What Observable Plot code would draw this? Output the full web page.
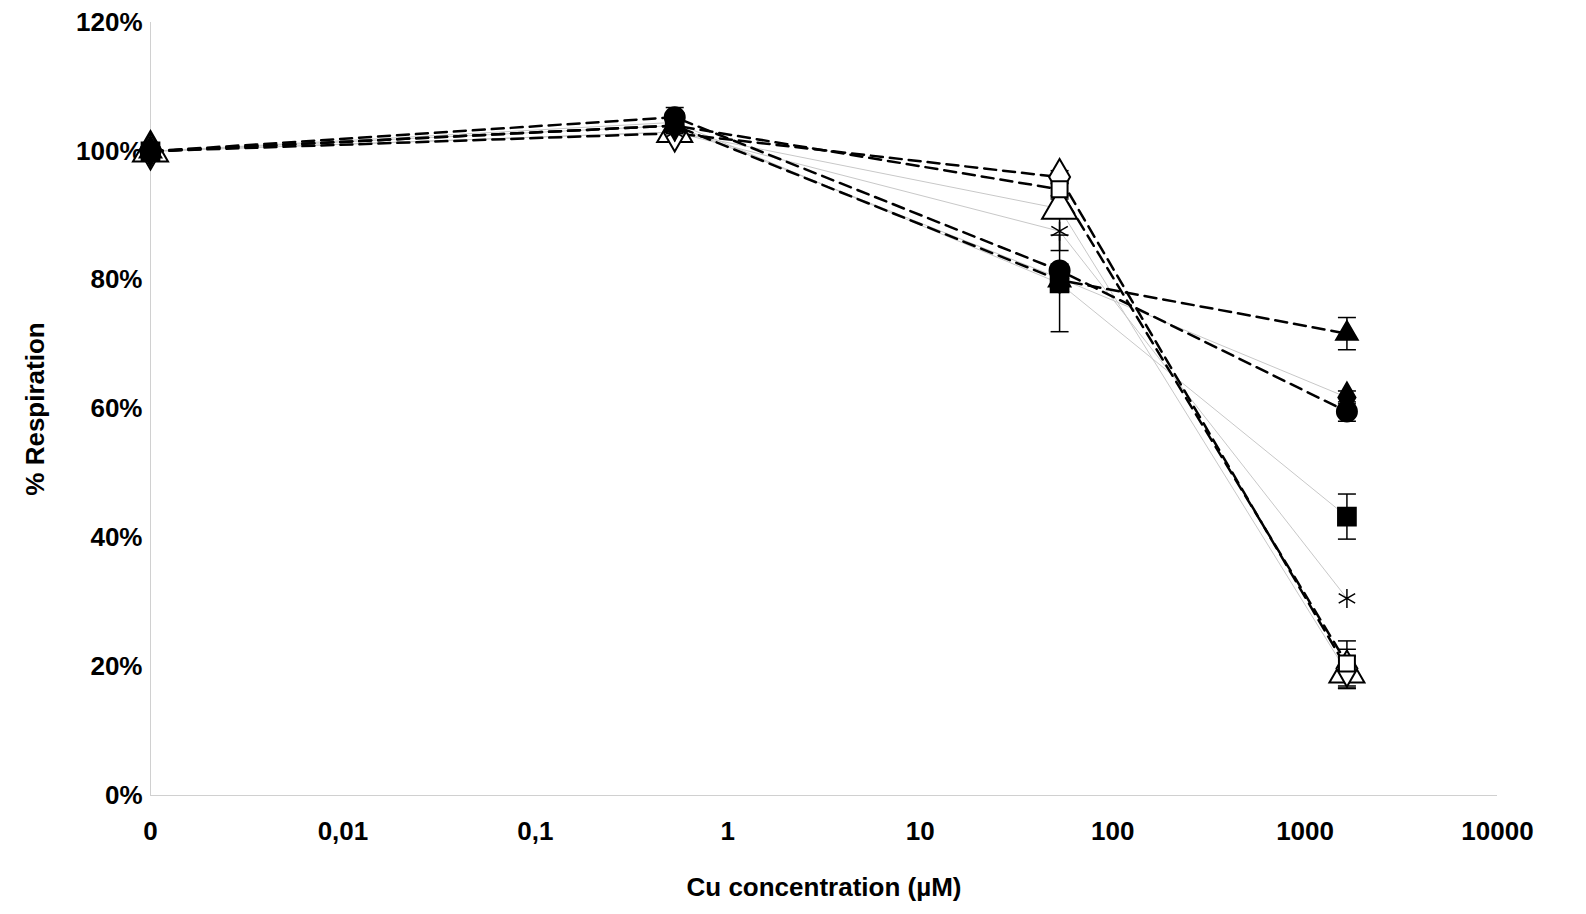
<!DOCTYPE html>
<html><head><meta charset="utf-8">
<script src="https://cdn.jsdelivr.net/npm/d3@7"></script>
<script src="https://cdn.jsdelivr.net/npm/@observablehq/plot@0.6"></script>
<style>html,body{margin:0;background:#fff;overflow:hidden} #chart{font-family:"Liberation Sans",Arial,sans-serif} #chart svg{max-width:none!important;width:1586px;height:914px}</style>
</head><body><div id="chart"></div>
<script>
// concentrations (µM); "0" is drawn at 0.001 on the log axis
const conc = [0.001, 0.53, 53, 1650];
const xTicks = [0.001, 0.01, 0.1, 1, 10, 100, 1000, 10000];
const xTickLabels = ["0", "0,01", "0,1", "1", "10", "100", "1000", "10000"];

// drawing order: open markers first, filled markers on top
const series = ["openTriangle", "openDiamond", "openSquare", "asterisk", "solidTriangle", "solidDiamond", "solidCircle", "solidSquare"];
const values = {
  solidTriangle: [100, 104, 80.0, 71.7],
  solidCircle:   [100, 105.3, 81.5, 59.6],
  solidDiamond:  [100, 104, 80.3, 61.8],
  solidSquare:   [100, 104.5, 79.5, 43.3],
  asterisk:      [100, 103, 87.6, 30.6],
  openDiamond:   [100, 102.8, 96, 19.7],
  openSquare:    [100, 104, 94.1, 20.5],
  openTriangle:  [100, 103, 91.1, 19.1]
};
const errors = {
  solidTriangle: [0, 1, 1, 2.5],
  solidCircle:   [0, 1.5, 1, 1.5],
  solidDiamond:  [0, 1, 1, 1],
  solidSquare:   [0, 1, 7.5, 3.5],
  asterisk:      [0, 1, 3, 0],
  openDiamond:   [0, 1, 1, 3],
  openSquare:    [0, 1, 1, 3.5],
  openTriangle:  [0, 1, 1.5, 2.5]
};
const dashed = ["solidTriangle", "solidCircle", "openDiamond", "openSquare"];
const symbolOf = {solidTriangle:"triangle", solidCircle:"circle", solidDiamond:"diamond", solidSquare:"square",
  asterisk:"asterisk", openDiamond:"diamond", openSquare:"square", openTriangle:"triangle"};
const filled = ["solidTriangle", "solidCircle", "solidDiamond", "solidSquare"];
const sizeOf = {solidTriangle:8, solidCircle:10, solidDiamond:9, solidSquare:10, asterisk:9, openDiamond:11, openSquare:9, openTriangle:13};

const rows = series.flatMap(s => conc.map((c, i) => ({s, x: c, y: values[s][i], e: errors[s][i]})));
const caps = rows.filter(d => d.e > 0).flatMap(d => [{x: d.x, y: d.y - d.e}, {x: d.x, y: d.y + d.e}]);
const capSymbol = {draw(ctx) { ctx.moveTo(-9, 0); ctx.lineTo(9, 0); }};

const marks = [
  Plot.ruleX([0.001], {stroke: "#d0d0d0"}),
  Plot.ruleY([0], {stroke: "#d0d0d0"}),
  Plot.line(rows.filter(d => !dashed.includes(d.s)), {x: "x", y: "y", z: "s", stroke: "#c8c8c8", strokeWidth: 1}),
  Plot.line(rows.filter(d => dashed.includes(d.s)), {x: "x", y: "y", z: "s", stroke: "#000", strokeWidth: 2.5, strokeDasharray: "12,7"}),
  Plot.link(rows.filter(d => d.e > 0), {x1: "x", x2: "x", y1: d => d.y - d.e, y2: d => d.y + d.e, stroke: "#000", strokeWidth: 1.5}),
  Plot.dot(caps, {x: "x", y: "y", symbol: () => capSymbol, stroke: "#000", strokeWidth: 1.5, r: 1})
];
for (const s of series) {
  const isFilled = filled.includes(s);
  marks.push(Plot.dot(rows.filter(d => d.s === s), {
    x: "x", y: "y", symbol: symbolOf[s], r: sizeOf[s],
    fill: isFilled ? "#000" : (s === "asterisk" ? "none" : "#fff"),
    stroke: "#000", strokeWidth: s === "asterisk" ? 1.5 : 2
  }));
}

const chart = Plot.plot({
  width: 1586, height: 914,
  marginLeft: 150, marginRight: 89, marginTop: 22, marginBottom: 119,
  style: {fontFamily: "Liberation Sans, Arial, sans-serif", fontSize: "26px", fontWeight: "bold", color: "#000"},
  x: {type: "log", domain: [0.001, 10000], ticks: xTicks, tickFormat: d => xTickLabels[xTicks.indexOf(d)] ?? "",
      tickSize: 0, tickPadding: 26, label: "Cu concentration (µM)", labelArrow: "none", labelAnchor: "center", labelOffset: 100},
  y: {domain: [0, 120], ticks: d3.range(0, 121, 20), tickFormat: d => d + "%", tickSize: 0, tickPadding: 8,
      label: "% Respiration", labelArrow: "none", labelAnchor: "center", labelOffset: 125},
  marks
});
d3.select("#chart").append(() => chart);
</script></body></html>
